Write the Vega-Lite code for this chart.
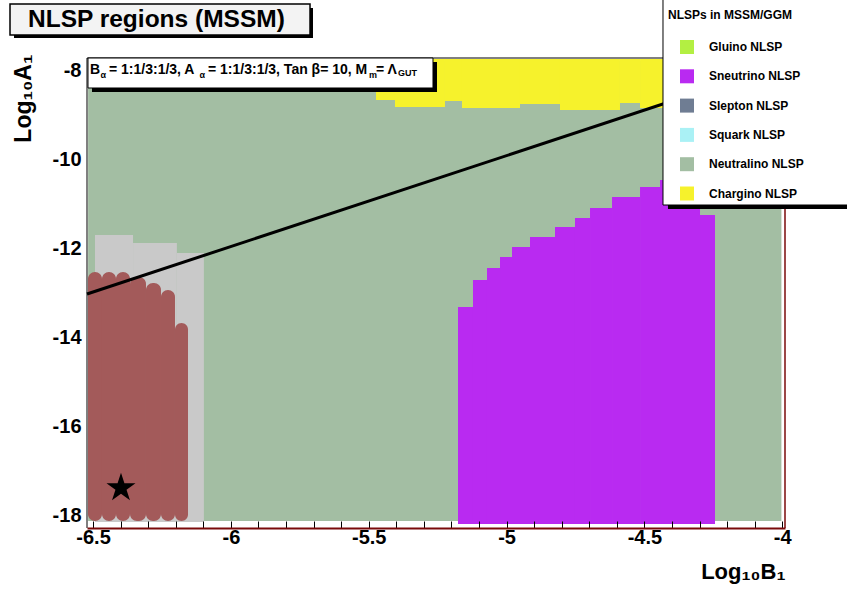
{
  "$schema": "https://vega.github.io/schema/vega-lite/v6.json",
  "width": 698,
  "height": 470,
  "autosize": {"type": "none"},
  "padding": {"left": 87, "top": 58, "right": 62, "bottom": 62},
  "background": "white",
  "config": {"view": {"stroke": null}, "font": "Liberation Sans"},
  "datasets": {
    "regions": [
      {"nlsp": "Neutralino NLSP", "x0": -6.518, "x1": -4.003, "y0": -18.112, "y1": -7.775},
      {"nlsp": "Chargino NLSP", "x0": -5.4737, "x1": -5.4048, "y0": -8.654, "y1": -7.732},
      {"nlsp": "Chargino NLSP", "x0": -5.4048, "x1": -5.2234, "y0": -8.811, "y1": -7.732},
      {"nlsp": "Chargino NLSP", "x0": -5.2234, "x1": -5.1617, "y0": -8.676, "y1": -7.732},
      {"nlsp": "Chargino NLSP", "x0": -5.1617, "x1": -4.9513, "y0": -8.833, "y1": -7.732},
      {"nlsp": "Chargino NLSP", "x0": -4.9513, "x1": -4.8062, "y0": -8.743, "y1": -7.732},
      {"nlsp": "Chargino NLSP", "x0": -4.8062, "x1": -4.5886, "y0": -8.878, "y1": -7.732},
      {"nlsp": "Chargino NLSP", "x0": -4.5886, "x1": -4.5159, "y0": -8.721, "y1": -7.732},
      {"nlsp": "Chargino NLSP", "x0": -4.5159, "x1": -4.2983, "y0": -8.833, "y1": -7.732},
      {"nlsp": "Sneutrino NLSP", "x0": -5.1762, "x1": -5.1218, "y0": -18.18, "y1": -13.304},
      {"nlsp": "Sneutrino NLSP", "x0": -5.1218, "x1": -5.071, "y0": -18.18, "y1": -12.698},
      {"nlsp": "Sneutrino NLSP", "x0": -5.071, "x1": -5.0238, "y0": -18.18, "y1": -12.428},
      {"nlsp": "Sneutrino NLSP", "x0": -5.0238, "x1": -4.9803, "y0": -18.18, "y1": -12.181},
      {"nlsp": "Sneutrino NLSP", "x0": -4.9803, "x1": -4.915, "y0": -18.18, "y1": -11.956},
      {"nlsp": "Sneutrino NLSP", "x0": -4.915, "x1": -4.8243, "y0": -18.18, "y1": -11.732},
      {"nlsp": "Sneutrino NLSP", "x0": -4.8243, "x1": -4.7518, "y0": -18.18, "y1": -11.507},
      {"nlsp": "Sneutrino NLSP", "x0": -4.7518, "x1": -4.6973, "y0": -18.18, "y1": -11.305},
      {"nlsp": "Sneutrino NLSP", "x0": -4.6973, "x1": -4.6175, "y0": -18.18, "y1": -11.08},
      {"nlsp": "Sneutrino NLSP", "x0": -4.6175, "x1": -4.5159, "y0": -18.18, "y1": -10.833},
      {"nlsp": "Sneutrino NLSP", "x0": -4.5159, "x1": -4.4434, "y0": -18.18, "y1": -10.608},
      {"nlsp": "Sneutrino NLSP", "x0": -4.4434, "x1": -4.2983, "y0": -18.18, "y1": -10.451},
      {"nlsp": "Sneutrino NLSP", "x0": -4.2983, "x1": -4.2439, "y0": -18.18, "y1": -11.237}
    ],
    "gray": [
      {"x0": -6.493, "x1": -6.355, "y0": -18.134, "y1": -11.687},
      {"x0": -6.355, "x1": -6.196, "y0": -18.134, "y1": -11.866},
      {"x0": -6.196, "x1": -6.098, "y0": -18.134, "y1": -12.091}
    ],
    "red": [
      {"x0": -6.5184, "x1": -6.4676, "y0": -18.112, "y1": -12.518},
      {"x0": -6.4676, "x1": -6.4168, "y0": -18.112, "y1": -12.518},
      {"x0": -6.4168, "x1": -6.366, "y0": -18.112, "y1": -12.518},
      {"x0": -6.366, "x1": -6.308, "y0": -18.112, "y1": -12.63},
      {"x0": -6.308, "x1": -6.2536, "y0": -18.112, "y1": -12.765},
      {"x0": -6.2536, "x1": -6.2028, "y0": -18.112, "y1": -12.922},
      {"x0": -6.2028, "x1": -6.1556, "y0": -18.112, "y1": -13.664}
    ],
    "boundary": [
      {"b": -6.522, "a": -13.012},
      {"b": -4.0, "a": -7.86}
    ]
  },
  "layer": [
    {
      "data": {"name": "regions"},
      "mark": {"type": "rect"},
      "encoding": {
        "x": {"field": "x0", "type": "quantitative",
          "scale": {"domain": [-6.522, -3.99], "nice": false, "zero": false},
          "axis": {
            "orient": "bottom", "zindex": 1, "grid": false, "tickCount": 40,
            "values": [-6.5,-6.4,-6.3,-6.2,-6.1,-6.0,-5.9,-5.8,-5.7,-5.6,-5.5,-5.4,-5.3,-5.2,-5.1,-5.0,-4.9,-4.8,-4.7,-4.6,-4.5,-4.4,-4.3,-4.2,-4.1,-4.0],
            "labelExpr": "abs(datum.value*2 - round(datum.value*2)) < 0.01 ? '-' + toString(abs(datum.value)) : ''",
            "labelOverlap": false, "labelFlush": false,
            "domainColor": "#7a0a0a", "domainWidth": 2,
            "tickColor": "black", "tickSize": -7, "tickWidth": 1,
            "labelFont": "Liberation Sans", "labelFontWeight": "bold", "labelFontSize": 20, "labelColor": "black", "labelPadding": 6,
            "title": "Log₁₀B₁", "titleFont": "Liberation Sans", "titleFontWeight": "bold", "titleFontSize": 22, "titleColor": "black",
            "titleAlign": "right", "titleAnchor": null, "titleX": 698, "titleY": 50, "titleBaseline": "alphabetic"
          }
        },
        "x2": {"field": "x1"},
        "y": {"field": "y0", "type": "quantitative",
          "scale": {"domain": [-18.27, -7.71], "nice": false, "zero": false},
          "axis": {
            "orient": "left", "grid": false, "domain": false, "ticks": false,
            "values": [-18, -16, -14, -12, -10, -8],
            "labelExpr": "'-' + toString(abs(datum.value))",
            "labelFont": "Liberation Sans", "labelFontWeight": "bold", "labelFontSize": 20, "labelColor": "black", "labelPadding": 6,
            "title": "Log₁₀A₁", "titleFont": "Liberation Sans", "titleFontWeight": "bold", "titleFontSize": 23, "titleColor": "black",
            "titleAngle": -90, "titleAlign": "right", "titleAnchor": null, "titleX": -57, "titleY": -4, "titleBaseline": "alphabetic"
          }
        },
        "y2": {"field": "y1"},
        "color": {"field": "nlsp", "type": "nominal",
          "scale": {
            "domain": ["Gluino NLSP", "Sneutrino NLSP", "Slepton NLSP", "Squark NLSP", "Neutralino NLSP", "Chargino NLSP"],
            "range": ["#b3ef42", "#b92af1", "#6f7d93", "#aaf1f5", "#a3bea3", "#f6f22c"]
          },
          "legend": {
            "orient": "none", "legendX": 581, "legendY": -48, "padding": 0, "zindex": 1,
            "title": "NLSPs in MSSM/GGM", "titleFont": "Liberation Sans", "titleFontSize": 12, "titleFontWeight": "bold", "titleColor": "black", "titlePadding": 18, "titleLimit": 300,
            "labelFont": "Liberation Sans", "labelFontSize": 12, "labelFontWeight": "bold", "labelColor": "black", "labelOffset": 15, "labelLimit": 300,
            "symbolType": "square", "symbolSize": 196, "symbolOffset": 12, "symbolStrokeWidth": 0, "symbolOpacity": 1,
            "rowPadding": 15.3
          }
        }
      }
    },
    {
      "data": {"name": "gray"},
      "mark": {"type": "rect", "color": "#c9c9c9"},
      "encoding": {
        "x": {"field": "x0", "type": "quantitative"},
        "x2": {"field": "x1"},
        "y": {"field": "y0", "type": "quantitative"},
        "y2": {"field": "y1"}
      }
    },
    {
      "data": {"name": "red"},
      "mark": {"type": "rect", "color": "#a35a5a", "cornerRadius": 7},
      "encoding": {
        "x": {"field": "x0", "type": "quantitative"},
        "x2": {"field": "x1"},
        "y": {"field": "y0", "type": "quantitative"},
        "y2": {"field": "y1"}
      }
    },
    {
      "data": {"name": "boundary"},
      "mark": {"type": "line", "color": "black", "strokeWidth": 3},
      "encoding": {
        "x": {"field": "b", "type": "quantitative"},
        "y": {"field": "a", "type": "quantitative"}
      }
    },
    {
      "data": {"values": [{}]},
      "mark": {"type": "point", "shape": "M0,-1L0.2245,-0.309L0.951,-0.309L0.3633,0.118L0.588,0.809L0,0.382L-0.588,0.809L-0.3633,0.118L-0.951,-0.309L-0.2245,-0.309Z", "filled": true, "color": "black", "size": 930, "opacity": 1},
      "encoding": {"x": {"datum": -6.3987}, "y": {"datum": -17.371}}
    },
    {
      "data": {"values": [{}]},
      "mark": {"type": "rule", "color": "black", "strokeWidth": 1},
      "encoding": {"x": {"datum": -6.522}, "x2": {"datum": -3.99}, "y": {"datum": -7.71}}
    },
    {
      "data": {"values": [{}]},
      "mark": {"type": "rule", "color": "black", "strokeWidth": 1},
      "encoding": {"x": {"datum": -6.522}, "y": {"datum": -7.71}, "y2": {"datum": -18.27}}
    },
    {
      "data": {"values": [{}]},
      "mark": {"type": "rule", "color": "#7a0a0a", "strokeWidth": 1.5},
      "encoding": {"x": {"datum": -3.99}, "y": {"datum": -7.71}, "y2": {"datum": -18.27}}
    },
    {
      "data": {"values": [{}]},
      "mark": {"type": "rect", "color": "black"},
      "encoding": {"x": {"datum": -6.5039}, "x2": {"datum": -5.2524}, "y": {"datum": -7.80}, "y2": {"datum": -8.474}}
    },
    {
      "data": {"values": [{}]},
      "mark": {"type": "rect", "fill": "white", "stroke": "black", "strokeWidth": 1},
      "encoding": {"x": {"datum": -6.5184}, "x2": {"datum": -5.2669}, "y": {"datum": -7.71}, "y2": {"datum": -8.384}}
    },
    {
      "data": {"values": [{}]},
      "mark": {"type": "text", "text": "B", "align": "left", "baseline": "alphabetic", "fontSize": 14, "fontWeight": "bold", "color": "black"},
      "encoding": {"x": {"datum": -6.5111}, "y": {"datum": -8.0695}}
    },
    {
      "data": {"values": [{}]},
      "mark": {"type": "text", "text": "α", "align": "left", "baseline": "alphabetic", "fontSize": 9, "fontWeight": "bold", "color": "black", "dy": 4},
      "encoding": {"x": {"datum": -6.473}, "y": {"datum": -8.0695}}
    },
    {
      "data": {"values": [{}]},
      "mark": {"type": "text", "text": "= 1:1/3:1/3, A", "align": "left", "baseline": "alphabetic", "fontSize": 14, "fontWeight": "bold", "color": "black"},
      "encoding": {"x": {"datum": -6.4422}, "y": {"datum": -8.0695}}
    },
    {
      "data": {"values": [{}]},
      "mark": {"type": "text", "text": "α", "align": "left", "baseline": "alphabetic", "fontSize": 9, "fontWeight": "bold", "color": "black", "dy": 4},
      "encoding": {"x": {"datum": -6.1139}, "y": {"datum": -8.0695}}
    },
    {
      "data": {"values": [{}]},
      "mark": {"type": "text", "text": "= 1:1/3:1/3, Tan β= 10, M", "align": "left", "baseline": "alphabetic", "fontSize": 14, "fontWeight": "bold", "color": "black"},
      "encoding": {"x": {"datum": -6.0831}, "y": {"datum": -8.0695}}
    },
    {
      "data": {"values": [{}]},
      "mark": {"type": "text", "text": "m", "align": "left", "baseline": "alphabetic", "fontSize": 9, "fontWeight": "bold", "color": "black", "dy": 4},
      "encoding": {"x": {"datum": -5.499}, "y": {"datum": -8.0695}}
    },
    {
      "data": {"values": [{}]},
      "mark": {"type": "text", "text": "= Λ", "align": "left", "baseline": "alphabetic", "fontSize": 14, "fontWeight": "bold", "color": "black"},
      "encoding": {"x": {"datum": -5.4736}, "y": {"datum": -8.0695}}
    },
    {
      "data": {"values": [{}]},
      "mark": {"type": "text", "text": "GUT", "align": "left", "baseline": "alphabetic", "fontSize": 9, "fontWeight": "bold", "color": "black", "dy": 2},
      "encoding": {"x": {"datum": -5.3938}, "y": {"datum": -8.0695}}
    },
    {
      "data": {"values": [{}]},
      "mark": {"type": "rect", "color": "black"},
      "encoding": {"x": {"datum": -4.4145}, "x2": {"datum": -3.6}, "y": {"datum": -6.3}, "y2": {"datum": -11.103}}
    },
    {
      "data": {"values": [{}]},
      "mark": {"type": "rect", "fill": "white", "stroke": "black", "strokeWidth": 1},
      "encoding": {"x": {"datum": -4.4326}, "x2": {"datum": -3.62}, "y": {"datum": -6.182}, "y2": {"datum": -11.013}}
    },
    {
      "data": {"values": [{}]},
      "mark": {"type": "rect", "color": "black"},
      "encoding": {"x": {"datum": -6.7868}, "x2": {"datum": -5.7022}, "y": {"datum": -6.587}, "y2": {"datum": -7.261}}
    },
    {
      "data": {"values": [{}]},
      "mark": {"type": "rect", "fill": "#f3f3f3", "stroke": "black", "strokeWidth": 1.5},
      "encoding": {"x": {"datum": -6.8013}, "x2": {"datum": -5.713}, "y": {"datum": -6.497}, "y2": {"datum": -7.193}}
    },
    {
      "data": {"values": [{}]},
      "mark": {"type": "text", "text": "NLSP regions (MSSM)", "align": "left", "baseline": "alphabetic", "fontSize": 24.5, "fontWeight": "bold", "color": "black"},
      "encoding": {"x": {"datum": -6.736}, "y": {"datum": -7.0135}}
    }
  ]
}
